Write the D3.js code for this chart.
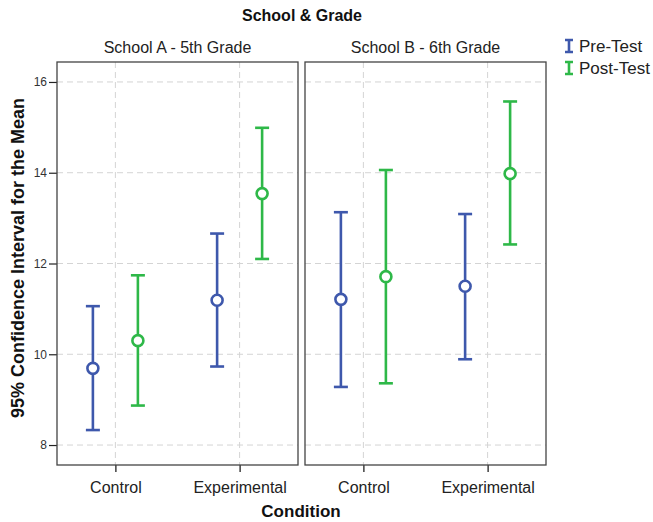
<!DOCTYPE html>
<html>
<head>
<meta charset="utf-8">
<script src="https://cdn.jsdelivr.net/npm/d3@7"></script>
<style>
  body { margin: 0; background: #fff; }
  text { font-family: "Liberation Sans", Arial, sans-serif; }
</style>
</head>
<body>
<script>
// error bar chart, SPSS style, two school panels

var panels = ["School A - 5th Grade", "School B - 6th Grade"];
var conditions = ["Control", "Experimental"];
var series = ["Pre-Test", "Post-Test"];
var yTicks = [8, 10, 12, 14, 16];

// [panel][condition] values
var preMean  = [[9.69, 11.19], [11.21, 11.50]];
var preLow   = [[8.33, 9.73],  [9.28, 9.89]];
var preHigh  = [[11.06, 12.66], [13.13, 13.09]];
var postMean = [[10.30, 13.54], [11.71, 13.98]];
var postLow  = [[8.87, 12.10], [9.36, 12.42]];
var postHigh = [[11.74, 14.99], [14.06, 15.57]];

var colors = {"Pre-Test": "#3e58ac", "Post-Test": "#2eb848"};

var svg = d3.select("body").append("svg")
    .attr("width", 653)
    .attr("height", 522);

var panelX = [57, 305], panelW = 241, plotTop = 62, plotBottom = 465;

var y = d3.scaleLinear()
    .domain([7.56, 16.44])
    .range([plotBottom, plotTop]);

var off = d3.scalePoint()
    .domain(series)
    .range([-22.5, 22.5]);

// build rows from arrays
var rows = [];
panels.forEach(function(p, pi) {
    conditions.forEach(function(c, ci) {
        rows.push({panel: pi, cond: c, series: "Pre-Test", mean: preMean[pi][ci], lo: preLow[pi][ci], hi: preHigh[pi][ci]});
        rows.push({panel: pi, cond: c, series: "Post-Test", mean: postMean[pi][ci], lo: postLow[pi][ci], hi: postHigh[pi][ci]});
    });
});

// title
svg.append("text")
    .attr("x", 302)
    .attr("y", 21)
    .attr("text-anchor", "middle")
    .style("font-size", "16px")
    .style("font-weight", "bold")
    .style("fill", "#111")
    .text("School & Grade");

panels.forEach(function(p, pi) {
    var x0 = panelX[pi];
    var x = d3.scalePoint()
        .domain(conditions)
        .range([x0, x0 + panelW])
        .padding(0.47);

    var g = svg.append("g");

    // panel strip label
    g.append("text")
        .attr("x", x0 + panelW / 2)
        .attr("y", 53)
        .attr("text-anchor", "middle")
        .style("font-size", "16px")
        .style("fill", "#222")
        .text(p);

    // gridlines
    g.selectAll(".hgrid")
        .data(yTicks)
        .enter().append("line")
        .attr("x1", x0).attr("x2", x0 + panelW)
        .attr("y1", function(d) { return y(d); })
        .attr("y2", function(d) { return y(d); })
        .attr("stroke", "#d4d4d4")
        .attr("stroke-width", 1)
        .attr("stroke-dasharray", "6,4");

    g.selectAll(".vgrid")
        .data(conditions)
        .enter().append("line")
        .attr("x1", function(d) { return x(d); })
        .attr("x2", function(d) { return x(d); })
        .attr("y1", plotTop).attr("y2", plotBottom)
        .attr("stroke", "#d4d4d4")
        .attr("stroke-width", 1)
        .attr("stroke-dasharray", "6,4");

    // x axis
    var xa = g.append("g")
        .attr("transform", "translate(0," + plotBottom + ")")
        .call(d3.axisBottom(x).tickSize(7).tickSizeOuter(0));
    xa.select(".domain").remove();
    xa.selectAll("line").attr("stroke", "#222").attr("stroke-width", 1.3);
    xa.selectAll("text")
        .attr("y", 28)
        .attr("dy", 0)
        .style("font-size", "16px")
        .style("fill", "#222")
        .style("font-family", "Liberation Sans, Arial, sans-serif");

    if (pi === 0) {
        var ya = g.append("g")
            .attr("transform", "translate(" + x0 + ",0)")
            .call(d3.axisLeft(y).tickValues(yTicks).tickSize(8).tickPadding(2).tickSizeOuter(0));
        ya.select(".domain").remove();
        ya.selectAll("line").attr("stroke", "#222").attr("stroke-width", 1.2);
        ya.selectAll("text")
            .style("font-size", "12px")
            .style("fill", "#333")
            .style("font-family", "Liberation Sans, Arial, sans-serif");
    }

    // panel frame
    g.append("rect")
        .attr("x", x0).attr("y", plotTop)
        .attr("width", panelW).attr("height", plotBottom - plotTop)
        .attr("fill", "none")
        .attr("stroke", "#444")
        .attr("stroke-width", 1.3);

    var data = rows.filter(function(r) { return r.panel === pi; });
    var bars = g.selectAll(".bar")
        .data(data)
        .enter().append("g")
        .attr("transform", function(d) { return "translate(" + (x(d.cond) + off(d.series)) + ",0)"; })
        .attr("stroke", function(d) { return colors[d.series]; })
        .attr("stroke-width", 2.6)
        .attr("fill", "none");

    bars.append("line")
        .attr("y1", function(d) { return y(d.lo); })
        .attr("y2", function(d) { return y(d.hi); });
    bars.append("line")
        .attr("x1", -7).attr("x2", 7)
        .attr("y1", function(d) { return y(d.lo); })
        .attr("y2", function(d) { return y(d.lo); });
    bars.append("line")
        .attr("x1", -7).attr("x2", 7)
        .attr("y1", function(d) { return y(d.hi); })
        .attr("y2", function(d) { return y(d.hi); });
    bars.append("circle")
        .attr("cy", function(d) { return y(d.mean); })
        .attr("r", 5.5)
        .attr("fill", "#fff");
});

// axis titles
svg.append("text")
    .attr("transform", "translate(24,258) rotate(-90)")
    .attr("text-anchor", "middle")
    .style("font-size", "18px")
    .style("font-weight", "bold")
    .style("fill", "#111")
    .text("95% Confidence Interval for the Mean");

svg.append("text")
    .attr("x", 301)
    .attr("y", 517)
    .attr("text-anchor", "middle")
    .style("font-size", "17px")
    .style("font-weight", "bold")
    .style("fill", "#111")
    .text("Condition");

// legend
var leg = svg.selectAll(".leg")
    .data(series)
    .enter().append("g")
    .attr("transform", function(d, i) { return "translate(569," + (46 + i * 22) + ")"; });

leg.append("path")
    .attr("d", "M-4,-6H4M0,-6V6M-4,6H4")
    .attr("stroke", function(d) { return colors[d]; })
    .attr("stroke-width", 2.6)
    .attr("fill", "none");

leg.append("text")
    .attr("x", 10)
    .attr("y", 6)
    .style("font-size", "17px")
    .style("fill", "#222")
    .text(function(d) { return d; });
</script>
</body>
</html>
